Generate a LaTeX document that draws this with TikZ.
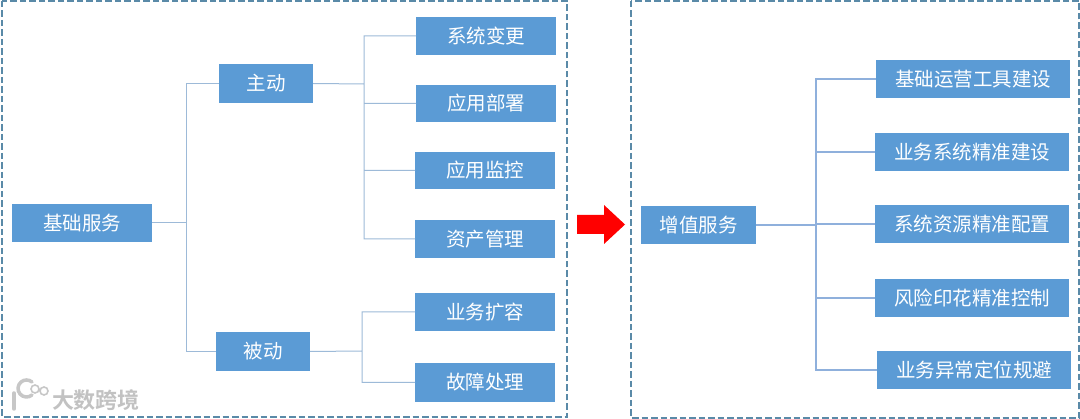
\documentclass[tikz,border=0pt]{standalone}
\usepackage{fontspec}
\setmainfont{Noto Sans CJK SC}
\newfontfamily\wmfont{Noto Sans CJK SC Bold}
\definecolor{boxblue}{HTML}{5B9BD5}
\definecolor{frameblue}{HTML}{5A8AA8}
\definecolor{linkblue}{HTML}{9DBAD8}
\definecolor{linkright}{HTML}{8FB0DC}
\tikzset{
  bx/.style={fill=boxblue,draw=none,text=white,font=\fontsize{19.5}{24}\selectfont,inner sep=0pt,outer sep=0pt,anchor=north west},
  frame/.style={draw=frameblue,line width=1.1pt,dash pattern=on 6.5pt off 3pt},
  link/.style={draw=linkblue,line width=1pt},
  linkr/.style={draw=linkright,line width=1.2pt},
}
\begin{document}
\begin{tikzpicture}[x=1pt,y=-1pt]
\useasboundingbox (0,0) rectangle (1080,419);
\fill[white] (0,0) rectangle (1080,419);
\draw[frame] (2,1) rectangle (567,417);
\draw[frame] (631,1) rectangle (1079,418);
\node[bx,minimum width=140pt,minimum height=38pt] (base) at (12,204) {基础服务};
\node[bx,minimum width=94pt,minimum height=39pt] (active) at (219,64) {主动};
\node[bx,minimum width=94pt,minimum height=39pt] (passive) at (216,332) {被动};
\node[bx,minimum width=140pt,minimum height=38pt] (a1) at (416,17) {系统变更};
\node[bx,minimum width=140pt,minimum height=37pt] (a2) at (416,85) {应用部署};
\node[bx,minimum width=140pt,minimum height=37pt] (a3) at (415,152) {应用监控};
\node[bx,minimum width=140pt,minimum height=38pt] (a4) at (415,220) {资产管理};
\node[bx,minimum width=140pt,minimum height=38pt] (p1) at (415,293) {业务扩容};
\node[bx,minimum width=140pt,minimum height=39pt] (p2) at (415,363) {故障处理};
\node[bx,minimum width=115pt,minimum height=38pt] (val) at (641,206) {增值服务};
\node[bx,minimum width=194pt,minimum height=38pt] (v1) at (876,60) {基础运营工具建设};
\node[bx,minimum width=194pt,minimum height=38pt] (v2) at (875,133) {业务系统精准建设};
\node[bx,minimum width=194pt,minimum height=38pt] (v3) at (875,205) {系统资源精准配置};
\node[bx,minimum width=194pt,minimum height=38pt] (v4) at (875,279) {风险印花精准控制};
\node[bx,minimum width=194pt,minimum height=38pt] (v5) at (877,351) {业务异常定位规避};
\coordinate (j0) at (186,223);
\coordinate (j1) at (364,84);
\coordinate (j2) at (362,351);
\coordinate (j3) at (816,225);
\path[link] (base.east) -- (j0) (j0) |- (active.west) (j0) |- (passive.west);
\path[link] (active.east) -- (j1) (j1) |- (a1.west) (j1) |- (a2.west) (j1) |- (a3.west) (j1) |- (a4.west);
\path[link] (passive.east) -- (j2) (j2) |- (p1.west) (j2) |- (p2.west);
\path[linkr] (val.east) -- (j3) (j3) |- (v1.west) (j3) |- (v2.west) (j3) |- (v3.west) (j3) |- (v4.west) (j3) |- (v5.west);
\fill[red] (577,215) -- (604,215) -- (604,205) -- (625,224.5) -- (604,244) -- (604,234) -- (577,234) -- cycle;
% watermark
\node[text=black!24,font=\wmfont\fontsize{22}{26}\selectfont,inner sep=0pt] (wm) at (96,400) {大数跨境};
\draw[black!22,line width=3.5pt,line cap=round] (14,393) -- (14,409);
\draw[black!22,line width=3.5pt,line cap=round] (32,395) arc (50:310:8.5);
\draw[black!22,line width=1.6pt] (35,389) circle (4) (44,391) circle (4);
\end{tikzpicture}
\end{document}
